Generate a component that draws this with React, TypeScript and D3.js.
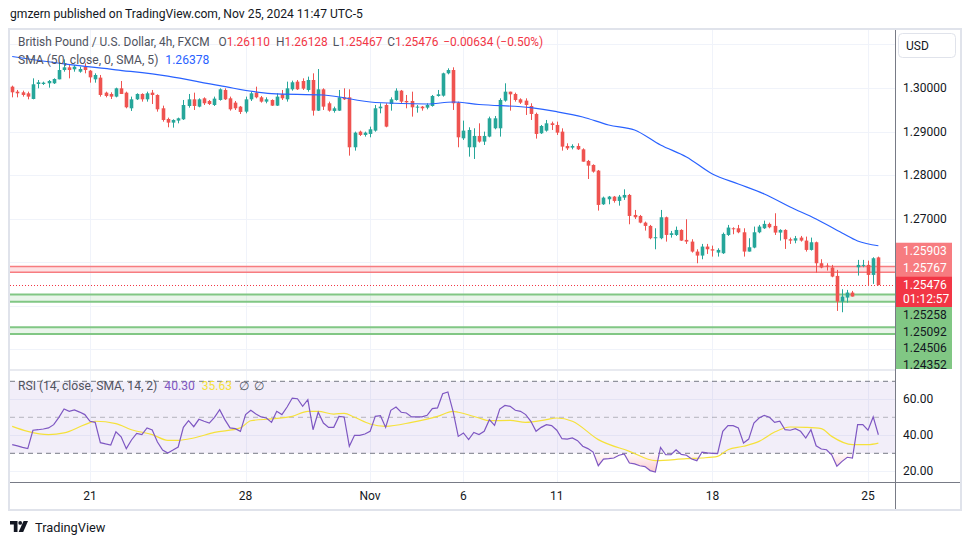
import React from 'react';
import * as d3 from 'd3';

// ---------- DATA ----------
const opens = [1.30031,1.29916,1.29901,1.29878,1.29748,1.30092,1.30092,1.30108,1.30108,1.30199,1.30413,1.30475,1.30429,1.30375,1.30490,1.30398,1.30199,1.30238,1.29893,1.29863,1.29802,1.29993,1.29893,1.29534,1.29740,1.29863,1.29740,1.29893,1.29840,1.29534,1.29289,1.29205,1.29251,1.29281,1.29587,1.29740,1.29572,1.29763,1.29702,1.29610,1.29725,1.29955,1.29763,1.29664,1.29572,1.29457,1.29740,1.29893,1.29786,1.29687,1.29725,1.29595,1.29855,1.29740,1.29970,1.30146,1.30161,1.29955,1.30184,1.29480,1.29970,1.29649,1.29473,1.29480,1.29786,1.29786,1.28639,1.28998,1.28922,1.28945,1.29021,1.29534,1.29610,1.29633,1.29725,1.29939,1.29702,1.29702,1.29549,1.29572,1.29549,1.29587,1.29817,1.29824,1.30337,1.30413,1.29664,1.28845,1.28639,1.28639,1.28899,1.28769,1.28884,1.29075,1.29075,1.29710,1.29916,1.29863,1.29740,1.29710,1.29587,1.29404,1.28960,1.29021,1.29189,1.29151,1.28998,1.28669,1.28631,1.28669,1.28592,1.28325,1.28233,1.28103,1.27330,1.27445,1.27506,1.27407,1.27483,1.27544,1.27085,1.27062,1.26909,1.26833,1.26550,1.26550,1.27032,1.26626,1.26626,1.26741,1.26512,1.26473,1.26244,1.26152,1.26359,1.26297,1.26221,1.26206,1.26626,1.26779,1.26779,1.26687,1.26244,1.26336,1.26687,1.26779,1.26879,1.26833,1.26680,1.26741,1.26527,1.26496,1.26565,1.26496,1.26282,1.26458,1.25976,1.25922,1.25877,1.25685,1.25096,1.25188,1.25303,1.25884,1.25922,1.25938,1.25708,1.26110];
const highs = [1.30054,1.29955,1.29939,1.29916,1.30222,1.30184,1.30146,1.30184,1.30222,1.30582,1.30658,1.30528,1.30528,1.30490,1.30567,1.30413,1.30337,1.30299,1.29916,1.29901,1.30008,1.30161,1.29916,1.29802,1.29878,1.29878,1.29916,1.29955,1.29855,1.29595,1.29320,1.29281,1.29320,1.29725,1.29863,1.29893,1.29763,1.29786,1.29725,1.29802,1.29993,1.29993,1.29802,1.29702,1.29587,1.29802,1.29916,1.30031,1.29817,1.29786,1.29740,1.29878,1.29955,1.30146,1.30169,1.30184,1.30222,1.30261,1.30337,1.30436,1.29993,1.29687,1.29572,1.29955,1.29993,1.29970,1.28998,1.29021,1.28998,1.29113,1.29610,1.29649,1.29649,1.29786,1.29993,1.29955,1.29840,1.29916,1.29610,1.29587,1.29649,1.29840,1.29955,1.30352,1.30452,1.30475,1.29687,1.29251,1.29098,1.29075,1.29189,1.28998,1.29343,1.29358,1.29763,1.30108,1.29916,1.29893,1.29763,1.29763,1.29649,1.29434,1.29151,1.29266,1.29228,1.29228,1.29074,1.28730,1.28707,1.28730,1.28615,1.28348,1.28248,1.28118,1.27506,1.27521,1.27521,1.27544,1.27674,1.27567,1.27200,1.27085,1.26932,1.26856,1.26779,1.27200,1.27047,1.26718,1.26818,1.26756,1.26986,1.26527,1.26297,1.26420,1.26420,1.26381,1.26320,1.26680,1.26856,1.26802,1.26856,1.26779,1.26550,1.26818,1.26856,1.26955,1.26909,1.27124,1.26756,1.26756,1.26565,1.26603,1.26603,1.26588,1.26565,1.26473,1.26068,1.25976,1.25938,1.25823,1.25379,1.25364,1.25341,1.26053,1.26053,1.26037,1.26114,1.26128];
const lows = [1.29786,1.29786,1.29802,1.29740,1.29740,1.29993,1.30070,1.30008,1.30092,1.30199,1.30375,1.30222,1.30375,1.30352,1.30337,1.30123,1.30123,1.29802,1.29786,1.29748,1.29786,1.29863,1.29534,1.29473,1.29725,1.29687,1.29687,1.29633,1.29457,1.29228,1.29098,1.29090,1.29189,1.29266,1.29549,1.29496,1.29557,1.29610,1.29610,1.29587,1.29710,1.29725,1.29480,1.29496,1.29404,1.29419,1.29702,1.29763,1.29664,1.29649,1.29587,1.29587,1.29725,1.29687,1.29939,1.29955,1.29955,1.29916,1.29366,1.29473,1.29496,1.29457,1.29434,1.29473,1.29725,1.28447,1.28562,1.28899,1.28884,1.28868,1.28998,1.29419,1.29098,1.29480,1.29710,1.29633,1.29534,1.29343,1.29434,1.29480,1.29511,1.29572,1.29802,1.29802,1.30314,1.29496,1.28639,1.28807,1.28424,1.28371,1.28746,1.28692,1.28868,1.29052,1.28884,1.29687,1.29480,1.29687,1.29633,1.29381,1.29266,1.28838,1.28945,1.28998,1.29036,1.28922,1.28562,1.28577,1.28592,1.28577,1.28309,1.27911,1.28057,1.27185,1.27315,1.27330,1.27368,1.27299,1.27430,1.26871,1.26993,1.26894,1.26726,1.26527,1.26297,1.26527,1.26473,1.26565,1.26603,1.26489,1.26420,1.26221,1.25976,1.26068,1.26190,1.26129,1.26129,1.26190,1.26603,1.26642,1.26665,1.26129,1.26244,1.26320,1.26665,1.26764,1.26779,1.26626,1.26496,1.26305,1.26420,1.26435,1.26473,1.26244,1.26267,1.25762,1.25861,1.25808,1.25655,1.24882,1.24851,1.25073,1.25211,1.25693,1.25884,1.25463,1.25502,1.25467];
const closes = [1.29901,1.29878,1.29840,1.29802,1.30085,1.30131,1.30123,1.30161,1.30207,1.30413,1.30475,1.30413,1.30490,1.30436,1.30413,1.30245,1.30299,1.29840,1.29817,1.29802,1.29993,1.29863,1.29557,1.29740,1.29863,1.29740,1.29878,1.29840,1.29511,1.29266,1.29205,1.29266,1.29304,1.29610,1.29740,1.29587,1.29740,1.29649,1.29633,1.29756,1.29970,1.29740,1.29511,1.29534,1.29450,1.29740,1.29878,1.29786,1.29687,1.29740,1.29595,1.29802,1.29763,1.29993,1.30131,1.29970,1.29985,1.30184,1.29480,1.29970,1.29572,1.29480,1.29534,1.29786,1.29740,1.28639,1.28975,1.28922,1.28975,1.29052,1.29534,1.29572,1.29113,1.29740,1.29939,1.29687,1.29671,1.29557,1.29572,1.29534,1.29610,1.29817,1.29855,1.30337,1.30413,1.29649,1.28868,1.29021,1.29036,1.28899,1.28769,1.28899,1.29304,1.29304,1.29725,1.29916,1.29855,1.29725,1.29664,1.29610,1.29404,1.28945,1.29128,1.29189,1.29151,1.28975,1.28654,1.28615,1.28669,1.28592,1.28309,1.28217,1.28080,1.27315,1.27483,1.27506,1.27407,1.27506,1.27544,1.27062,1.27032,1.26909,1.26833,1.26550,1.26573,1.27032,1.26626,1.26665,1.26741,1.26496,1.26473,1.26244,1.26152,1.26359,1.26297,1.26267,1.26282,1.26649,1.26795,1.26756,1.26687,1.26244,1.26343,1.26687,1.26818,1.26879,1.26802,1.26680,1.26741,1.26527,1.26496,1.26550,1.26496,1.26282,1.26458,1.25976,1.25877,1.25900,1.25670,1.25096,1.25211,1.25303,1.25211,1.25938,1.25938,1.25708,1.26091,1.25476];

// SMA(50) read at bar indices
const smaIdx = [0,10,20,30,40,50,60,70,80,85,90,100,105,110,115,120,125,130,135,140,145,150,155,160,163,167];
const smaVal = [1.30723,1.30553,1.30418,1.30273,1.30053,1.29871,1.29839,1.29667,1.29633,1.29679,1.29621,1.29548,1.29456,1.29334,1.29150,1.29036,1.28691,1.28416,1.28025,1.27796,1.27566,1.27268,1.26992,1.26670,1.26487,1.26378];

// RSI(14), one value per bar
const rsi = [34.8,34.1,33.3,32.6,42.8,43.1,43.5,44.1,45.9,50.0,54.6,53.3,54.1,52.9,51.5,47.8,47.2,35.9,35.2,34.6,42.0,39.2,32.6,37.4,41.1,40.4,44.1,43.0,36.3,31.8,30.2,31.8,33.5,44.4,48.1,44.8,48.9,47.8,46.8,50.0,54.2,48.7,44.1,43.7,42.2,51.5,53.9,51.8,50.2,49.6,47.2,53.3,51.5,55.7,60.7,60.3,56.1,59.8,43.1,52.8,46.8,44.4,44.4,50.5,50.2,33.9,40.0,40.0,40.7,42.2,50.5,50.9,44.4,53.9,55.7,52.8,52.4,50.2,50.2,50.2,51.1,54.8,55.2,63.1,64.1,53.3,39.4,41.3,37.6,41.6,40.4,42.2,48.7,45.5,54.6,56.6,56.1,53.9,53.3,51.5,47.8,42.2,44.4,45.9,45.4,42.8,38.1,37.9,38.5,37.0,33.9,32.6,30.7,23.1,26.8,27.0,27.4,28.9,29.6,24.6,24.1,23.1,22.6,20.4,19.6,33.3,29.2,29.2,32.0,29.4,28.9,26.8,25.9,30.7,30.2,30.0,29.8,42.2,45.4,45.4,44.1,35.7,37.9,46.8,49.6,51.1,50.0,47.2,47.8,43.1,42.8,43.7,42.2,38.5,43.1,34.2,32.4,32.0,29.2,22.8,25.5,27.8,27.4,45.9,45.9,42.8,50.2,40.3];

// RSI-based MA read at bar indices
const rsiMaIdx = [0,3,7,10,14,16,20,23,27,30,32,35,39,44,46,50,54,57,59,62,64,66,69,72,77,82,85,86,90,92,96,99,103,105,108,113,119,124,130,133,136,138,141,144,147,150,153,156,158,162,165,167];
const rsiMaVal = [45.0,42.2,40.4,41.3,45.9,47.8,46.5,43.1,40.4,37.2,37.2,38.5,41.6,44.1,48.1,49.1,50.5,53.3,53.3,51.8,52.2,50.0,46.3,45.0,47.2,50.5,53.3,52.8,49.6,48.1,48.3,47.2,48.7,49.6,47.8,37.6,31.1,25.9,27.0,27.4,28.3,32.0,33.9,36.6,41.8,44.6,44.4,43.7,39.4,34.8,34.8,35.63];

const dateTickIdx = [15,45,69,87,105,135,165];
const dateTickLabels = ['21','28','Nov','6','11','18','25'];
const priceTicks = [1.30,1.29,1.28,1.27];
const priceGrid = [1.31,1.30,1.29,1.28,1.27,1.26,1.25,1.24];
const rsiTicks = [60,40,20];

const redLevels = [1.25903,1.25767];
const greenLevels = [1.25258,1.25092,1.24506,1.24352];
const lastPrice = 1.25476;
const countdown = '01:12:57';
const smaLast = '1.26378';

const FONT = "Roboto, 'Liberation Sans', Arial, sans-serif";
const UP = '#26a69a';
const DN = '#ef5350';

export default function App() {
  const L = 10, R = 895, MT = 30, MB = 369, RT = 371, RB = 482, AB = 509, OR = 960;
  const x = d3.scaleLinear().domain([15, 165]).range([90, 868]);
  const y = d3.scaleLinear().domain([1.24, 1.30]).range([349.3, 88]);
  const yr = d3.scaleLinear().domain([20, 60]).range([471.3, 399.3]);

  const smaLine = d3.line<number>().x((_, i) => x(smaIdx[i])).y(d => y(d)).curve(d3.curveMonotoneX)(smaVal) || '';
  const rsiLine = d3.line<number>().x((_, i) => x(i)).y(d => yr(d))(rsi) || '';
  const rsiArea = d3.area<number>().x((_, i) => x(i)).y0(yr(30)).y1(d => yr(d))(rsi) || '';
  const rsiMaLine = d3.line<number>().x((_, i) => x(rsiMaIdx[i])).y(d => yr(d)).curve(d3.curveMonotoneX)(rsiMaVal) || '';

  // right-axis label stack
  const labels = [
    { t: redLevels[0].toFixed(5), bg: '#f77c80', fg: '#ffffff', h: 17 },
    { t: redLevels[1].toFixed(5), bg: '#f77c80', fg: '#ffffff', h: 17 },
    { t: lastPrice.toFixed(5), sub: countdown, bg: '#f23645', fg: '#ffffff', h: 30.3 },
    ...greenLevels.map(v => ({ t: v.toFixed(5), bg: '#81c784', fg: '#131722', h: 16.5 })),
  ];
  let cursor = y(redLevels[0]) - 23.7;
  const placed = labels.map(l => { const top = cursor; cursor += l.h; return { ...l, top }; });

  const legendY = 46;
  const gray = '#50535e';

  return (
    <svg width={970} height={545} style={{ position: 'absolute', left: 0, top: 0, background: '#fff' }} fontFamily={FONT}>
      <defs>
        <clipPath id="mainClip"><rect x={L} y={MT} width={R - L} height={MB - MT} /></clipPath>
        <clipPath id="rsiClip"><rect x={L} y={RT} width={R - L} height={RB - RT} /></clipPath>
        <clipPath id="below30"><rect x={L} y={yr(30)} width={R - L} height={RB - yr(30)} /></clipPath>
        <clipPath id="axisClip"><rect x={R} y={MT} width={OR - R} height={MB - MT} /></clipPath>
        <linearGradient id="osGrad" x1="0" y1={yr(30)} x2="0" y2={yr(18)} gradientUnits="userSpaceOnUse">
          <stop offset="0" stopColor="#f23645" stopOpacity={0.02} />
          <stop offset="1" stopColor="#f23645" stopOpacity={0.3} />
        </linearGradient>
      </defs>

      <text x={10} y={18} fontSize={12.1} fill="#131722">gmzern published on TradingView.com, Nov 25, 2024 11:47 UTC-5</text>

      <rect x={9} y={29} width={952} height={481} fill="#fff" stroke="#e0e3eb" strokeWidth={2} />

      {/* main pane grid */}
      <g clipPath="url(#mainClip)">
        {priceGrid.map(p => <line key={p} x1={L} x2={R} y1={Math.round(y(p)) + 0.5} y2={Math.round(y(p)) + 0.5} stroke="#f0f3fa" />)}
        {dateTickIdx.map(i => <line key={i} x1={Math.round(x(i)) + 0.5} x2={Math.round(x(i)) + 0.5} y1={MT} y2={MB} stroke="#f0f3fa" />)}

        {/* horizontal levels */}
        <rect x={L} y={y(redLevels[0])} width={R - L} height={y(redLevels[1]) - y(redLevels[0])} fill="#f23645" fillOpacity={0.15} />
        {redLevels.map(v => <line key={v} x1={L} x2={R} y1={y(v)} y2={y(v)} stroke="#f77c80" strokeWidth={1.5} />)}
        <rect x={L} y={y(greenLevels[0])} width={R - L} height={y(greenLevels[1]) - y(greenLevels[0])} fill="#4caf50" fillOpacity={0.12} />
        <rect x={L} y={y(greenLevels[2])} width={R - L} height={y(greenLevels[3]) - y(greenLevels[2])} fill="#4caf50" fillOpacity={0.12} />
        {greenLevels.map(v => <line key={v} x1={L} x2={R} y1={y(v)} y2={y(v)} stroke="#81c784" strokeWidth={2} />)}
        <line x1={L} x2={R} y1={Math.round(y(lastPrice)) + 0.5} y2={Math.round(y(lastPrice)) + 0.5} stroke="#f23645" strokeDasharray="1,2" />

        {/* candles */}
        {closes.map((c, i) => {
          const o = opens[i], h = highs[i], l = lows[i];
          const col = c >= o ? UP : DN;
          const cx = Math.round(x(i));
          const top = y(Math.max(o, c)), bot = y(Math.min(o, c));
          return (
            <g key={i} fill={col}>
              <rect x={cx} y={y(h)} width={1} height={Math.max(1, y(l) - y(h))} />
              <rect x={cx - 1.3} y={top} width={3.6} height={Math.max(1, bot - top)} />
            </g>
          );
        })}

        <path d={smaLine} fill="none" stroke="#2962ff" strokeWidth={1.2} />
      </g>

      {/* legend */}
      <text x={18} y={legendY} fontSize={11.9} fill={gray}>
        British Pound / U.S. Dollar, 4h, FXCM
        <tspan dx={9}>O</tspan><tspan fill="#f23645">1.26110</tspan>
        <tspan dx={6}>H</tspan><tspan fill="#f23645">1.26128</tspan>
        <tspan dx={5}>L</tspan><tspan fill="#f23645">1.25467</tspan>
        <tspan dx={5}>C</tspan><tspan fill="#f23645">1.25476</tspan>
        <tspan dx={5} fill="#f23645">−0.00634 (−0.50%)</tspan>
      </text>
      <text x={18} y={legendY + 18} fontSize={12.1} fill={gray}>
        SMA (50, close, 0, SMA, 5)<tspan dx={7} fill="#2962ff">{smaLast}</tspan>
      </text>

      {/* pane separator */}
      <line x1={L} x2={R} y1={370} y2={370} stroke="#e0e3eb" strokeWidth={1.5} />

      {/* RSI pane */}
      <g clipPath="url(#rsiClip)">
        {rsiTicks.map(v => <line key={v} x1={L} x2={R} y1={Math.round(yr(v)) + 0.5} y2={Math.round(yr(v)) + 0.5} stroke="#f0f3fa" />)}
        {dateTickIdx.map(i => <line key={i} x1={Math.round(x(i)) + 0.5} x2={Math.round(x(i)) + 0.5} y1={RT} y2={RB} stroke="#f0f3fa" />)}
        <rect x={L} y={yr(70)} width={R - L} height={yr(30) - yr(70)} fill="#7e57c2" fillOpacity={0.1} />
        <line x1={L} x2={R} y1={yr(70)} y2={yr(70)} stroke="#787b86" strokeDasharray="5,4" />
        <line x1={L} x2={R} y1={yr(50)} y2={yr(50)} stroke="#787b86" strokeOpacity={0.5} strokeDasharray="5,4" />
        <line x1={L} x2={R} y1={yr(30)} y2={yr(30)} stroke="#787b86" strokeDasharray="5,4" />
        <path d={rsiArea} fill="url(#osGrad)" clipPath="url(#below30)" />
        <path d={rsiMaLine} fill="none" stroke="#f5e13b" strokeWidth={1.2} />
        <path d={rsiLine} fill="none" stroke="#7e57c2" strokeWidth={1.2} />
      </g>
      <text x={18} y={389.5} fontSize={12.1} fill={gray}>
        RSI (14, close, SMA, 14, 2)
        <tspan dx={7} fill="#7e57c2">{rsi[rsi.length - 1].toFixed(2)}</tspan>
        <tspan dx={7} fill="#f5e13b">{rsiMaVal[rsiMaVal.length - 1].toFixed(2)}</tspan>
        <tspan dx={7}>∅</tspan><tspan dx={5}>∅</tspan>
      </text>

      {/* axes separators */}
      <line x1={R + 0.5} x2={R + 0.5} y1={MT} y2={AB} stroke="#787b86" />
      <line x1={L} x2={OR} y1={RB + 0.5} y2={RB + 0.5} stroke="#787b86" />

      {/* price axis */}
      <rect x={898.5} y={33.5} width={57} height={24} rx={4} fill="#fff" stroke="#e0e3eb" />
      <text x={906} y={45.5} fontSize={12} fill="#131722" dominantBaseline="central">USD</text>
      {priceTicks.map(p => (
        <text key={p} x={903} y={y(p)} fontSize={12} fill="#131722" dominantBaseline="central">{p.toFixed(5)}</text>
      ))}
      {rsiTicks.map(v => (
        <text key={v} x={903} y={yr(v)} fontSize={12} fill="#131722" dominantBaseline="central">{v.toFixed(2)}</text>
      ))}
      <g clipPath="url(#axisClip)">
        {placed.map((l, k) => (
          <g key={k}>
            <rect x={R + 1} y={l.top} width={56} height={l.h + 0.5} fill={l.bg} />
            <text x={903} y={l.top + (l.sub ? 8.5 : l.h / 2)} fontSize={12} fill={l.fg} dominantBaseline="central">{l.t}</text>
            {l.sub && <text x={903} y={l.top + 22} fontSize={12} fill={l.fg} dominantBaseline="central">{l.sub}</text>}
          </g>
        ))}
      </g>

      {/* time axis */}
      {dateTickIdx.map((i, k) => (
        <text key={i} x={x(i)} y={496} fontSize={12} fill="#131722" textAnchor="middle" dominantBaseline="central">{dateTickLabels[k]}</text>
      ))}

      {/* footer logo */}
      <g transform="translate(10,521)" fill="#131722">
        <path d="M0 0 H7.5 V11 H3.8 V3.6 H0 Z" />
        <circle cx={10.2} cy={1.9} r={1.9} />
        <path d="M13.6 0 H18 L13.2 11 H8.6 Z" />
      </g>
      <text x={35} y={532} fontSize={12.8} fill="#131722">TradingView</text>
    </svg>
  );
}
